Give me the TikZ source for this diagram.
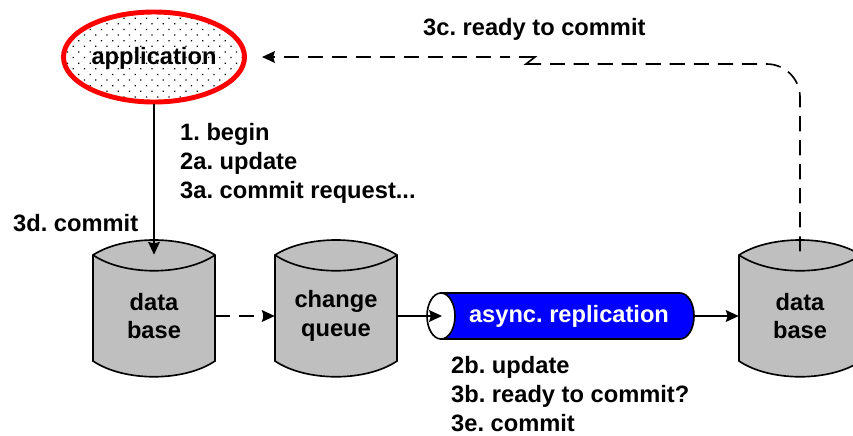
\documentclass[tikz,border=0pt]{standalone}
\usepackage{fontspec}
\setmainfont{Liberation Sans}
\usetikzlibrary{arrows.meta,shapes.geometric,patterns.meta}
\definecolor{replblue}{RGB}{0,0,255}
\frenchspacing
\tikzset{
  bigfont/.style={font=\fontsize{20.2}{24.7}\selectfont\bfseries},
  lbl/.style={bigfont,align=left,anchor=west,inner sep=0pt},
  dbtext/.style={bigfont,align=center,minimum size=3.66cm,inner sep=0pt},
  conn/.style={line width=1.4pt,-{Stealth[length=11pt,width=10pt,inset=1.5pt]}},
  dashconn/.style={conn,dash pattern=on 13pt off 7.5pt},
  dbcyl/.pic={
    \draw[line width=1.4pt,fill=gray!50] (-61,-61) .. controls (-30,-81) and (30,-81) .. (61,-61) -- (61,45) .. controls (30,66) and (-30,66) .. (-61,45) -- cycle;
    \draw[line width=1.4pt] (-61,-61) .. controls (-30,-40) and (30,-40) .. (61,-61);
  }
}
\begin{document}
\begin{tikzpicture}[x=0.03cm,y=-0.03cm]
        \path[use as bounding box,clip] (0,0) rectangle (853,435);
        %Application
        \node[ellipse,draw=red,line width=4.2pt,minimum width=5.43cm,minimum height=2.7cm,inner sep=0pt,
              pattern={Dots[radius=0.75pt,distance=6.8pt,angle=45]}] (app) at (154,57) {};
        \node[bigfont] (applabel) at (154,58) {application};
        %Cylinders
        \pic at (154,316) {dbcyl};
        \pic at (336,316) {dbcyl};
        \pic at (800,316) {dbcyl};
        \node[dbtext] (db1) at (154,316) {data\\base};
        \node[dbtext] (queue) at (336,316) {change\\queue};
        \node[dbtext] (db2) at (800,316) {data\\base};
        %Replication tube
        \filldraw[line width=1.4pt,fill=replblue] (441,293) -- (680,293) arc (-90:90:14 and 23) -- (441,339) -- cycle;
        \filldraw[line width=1.4pt,fill=white] (441,316) ellipse (14 and 23);
        \node[bigfont,text=white,minimum width=8.01cm,minimum height=1.38cm,inner sep=0pt] (repl) at (560.5,316) {\hspace*{0.51cm}\raisebox{-0.03cm}{async. replication}};
        \coordinate (replin) at (442,316);
        \coordinate (appin) at (262,57);
        \coordinate (jogstart) at (550,64);
        \coordinate (jogend) at (510,57);
        %Connectors
        \draw[conn] (app.south) -- (db1.north);
        \draw[dashconn] (db1.east) -- (queue.west);
        \draw[conn] (queue.east) -- (replin);
        \draw[conn] (repl.east) -- (db2.west);
        \draw[line width=1.4pt,dash pattern=on 13pt off 7.5pt,dash phase=17.7pt] (db2.north) [rounded corners=1cm] -- (800,64) [sharp corners] -- (jogstart);
        \draw[line width=1.4pt] (541,64) -- (526,64) -- (535,57) -- (519,57);
        \draw[dashconn,dash phase=4.3pt] (jogend) -- (appin);
        %Labels
        \node[lbl] (lbltop) at (423,29) {3c. ready to commit};
        \node[lbl] (lblapp) at (180,163) {1. begin\\2a. update\\3a. commit request...};
        \node[lbl] (lblcommit) at (13,223) {3d. commit};
        \node[lbl] (lblrepl) at (451,394) {2b. update\\3b. ready to commit?\\3e. commit};
\end{tikzpicture}
\end{document}
